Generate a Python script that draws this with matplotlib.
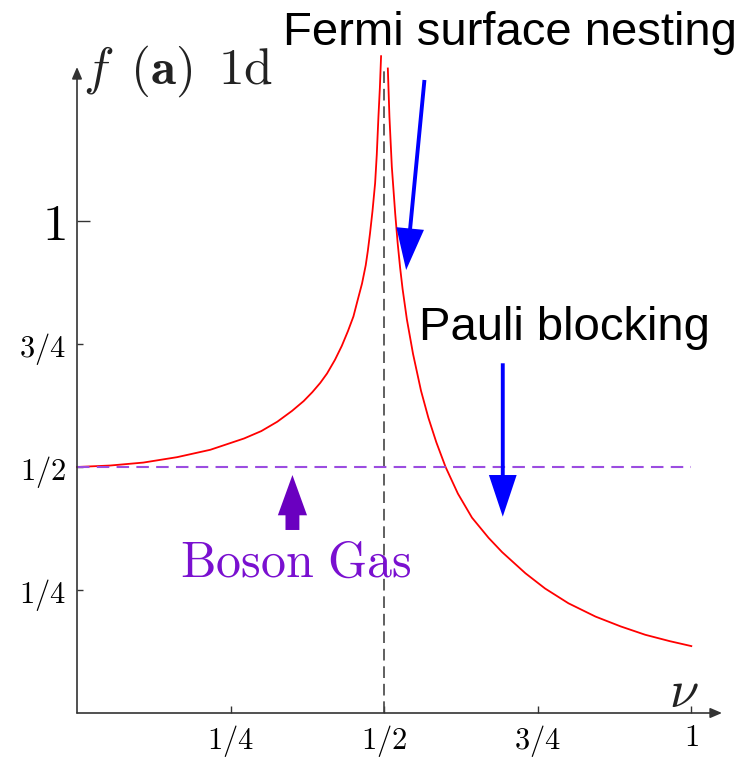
import matplotlib
matplotlib.use("Agg")
import matplotlib.pyplot as plt

plt.rcParams["mathtext.fontset"] = "cm"

# red curve f(nu) (two branches around nu = 1/2)
nu_left = [0.000, 0.054, 0.108, 0.163, 0.217, 0.272, 0.300, 0.326, 0.350, 0.369,
           0.383, 0.396, 0.407, 0.420, 0.431, 0.441, 0.450, 0.456, 0.464, 0.470,
           0.4734, 0.477, 0.481, 0.4853, 0.488, 0.4907, 0.493, 0.495]
f_left = [0.500, 0.503, 0.509, 0.520, 0.535, 0.558, 0.573, 0.592, 0.614, 0.634,
          0.652, 0.671, 0.690, 0.718, 0.746, 0.776, 0.806, 0.835, 0.873, 0.910,
          0.939, 0.975, 1.020, 1.077, 1.135, 1.212, 1.270, 1.335]

nu_right = [0.506, 0.5086, 0.5125, 0.518, 0.522, 0.526, 0.530, 0.537, 0.547, 0.560,
            0.572, 0.585, 0.600, 0.620, 0.643, 0.670, 0.692, 0.730, 0.762, 0.800,
            0.844, 0.885, 0.925, 0.965, 1.000]
f_right = [1.310, 1.212, 1.110, 1.015, 0.955, 0.905, 0.862, 0.800, 0.730, 0.655,
           0.600, 0.550, 0.500, 0.446, 0.397, 0.356, 0.327, 0.284, 0.253, 0.223,
           0.196, 0.176, 0.159, 0.146, 0.136]

boson_level = 0.5
nesting_nu = 0.5

ticks = [0.25, 0.5, 0.75, 1.0]
tick_labels = [r"$1/4$", r"$1/2$", r"$3/4$", r"$1$"]

# annotation arrows: (start, tip)
fermi_arrow = ((0.5656, 1.2866), (0.5358, 0.9004))
pauli_arrow = ((0.6931, 0.7108), (0.6931, 0.399))
boson_arrow = ((0.3507, 0.372), (0.3507, 0.4837))

W, H = 755, 758
fig = plt.figure(figsize=(W / 100, H / 100), dpi=100)
# axes box in pixels: x 77..722, y 67..713
ax = fig.add_axes([77 / W, (H - 713) / H, (722 - 77) / W, (713 - 67) / H])
ax.set_xlim(0, (722 - 77) / 614.3)
ax.set_ylim(0, (713 - 67) / 492)

for s in ax.spines.values():
    s.set_visible(False)

axis_col = "#333333"
ax.annotate("", xy=(1, 0), xytext=(0, 0), xycoords="axes fraction",
            arrowprops=dict(arrowstyle="-|>,head_length=0.7,head_width=0.3",
                            color=axis_col, lw=1.2, shrinkA=0, shrinkB=0))
ax.annotate("", xy=(0, 1), xytext=(0, 0), xycoords="axes fraction",
            arrowprops=dict(arrowstyle="-|>,head_length=0.7,head_width=0.3",
                            color=axis_col, lw=1.2, shrinkA=0, shrinkB=0))

ax.set_xticks(ticks, labels=tick_labels)
ax.set_yticks(ticks, labels=tick_labels)
ax.tick_params(axis="x", direction="in", length=5, width=1, color=axis_col,
               labelsize=22, pad=7)
ax.tick_params(axis="y", direction="in", length=4, width=1, color=axis_col,
               labelsize=22, pad=8)
ax.get_yticklabels()[3].set_fontsize(37)
ax.yaxis.get_major_ticks()[3].tick1line.set_markersize(9.5)

# curve and guide lines
ax.plot(nu_left, f_left, color="red", lw=1.3, clip_on=False)
ax.plot(nu_right, f_right, color="red", lw=1.3, clip_on=False)
ax.plot([nesting_nu, nesting_nu], [0, 1.31], color="#444444", lw=1.2,
        dashes=(7, 3.5), clip_on=False)
ax.plot([0, 1], [boson_level, boson_level], color="#9b4de0", lw=1.5,
        dashes=(6, 3.5))

# arrows
for (start, tip) in [fermi_arrow, pauli_arrow]:
    ax.annotate("", xy=tip, xytext=start, annotation_clip=False,
                arrowprops=dict(arrowstyle="simple,head_length=3.0,head_width=2.0,tail_width=0.28",
                                mutation_scale=10, fc="#0000ff", ec="none",
                                shrinkA=0, shrinkB=0))
ax.annotate("", xy=boson_arrow[1], xytext=boson_arrow[0],
            arrowprops=dict(arrowstyle="simple,head_length=2.9,head_width=2.1,tail_width=1.0",
                            mutation_scale=10, fc="#6a00c0", ec="none",
                            shrinkA=0, shrinkB=0))

# texts
ax.text(0.010, 1.28, r"$f\ \,(\mathbf{a})\ \,1\mathrm{d}$", fontsize=37,
        color="#222222", va="baseline", ha="left", clip_on=False)
ax.text(0.988, 0.043, r"$\nu$", fontsize=38, color="#222222",
        ha="center", va="center")
ax.text((283 - 77) / 614.3, (713 - 45) / 492, "Fermi surface nesting",
        family="Liberation Sans", fontsize=34, va="baseline", ha="left",
        clip_on=False)
ax.text(0.557, 0.758, "Pauli blocking", family="Liberation Sans", fontsize=34,
        va="baseline", ha="left")
ax.text(0.1678, 0.2764, r"$\mathrm{Boson\ Gas}$", fontsize=36, color="#7a10d0",
        va="baseline", ha="left")

fig.savefig("out.png", dpi=100)
